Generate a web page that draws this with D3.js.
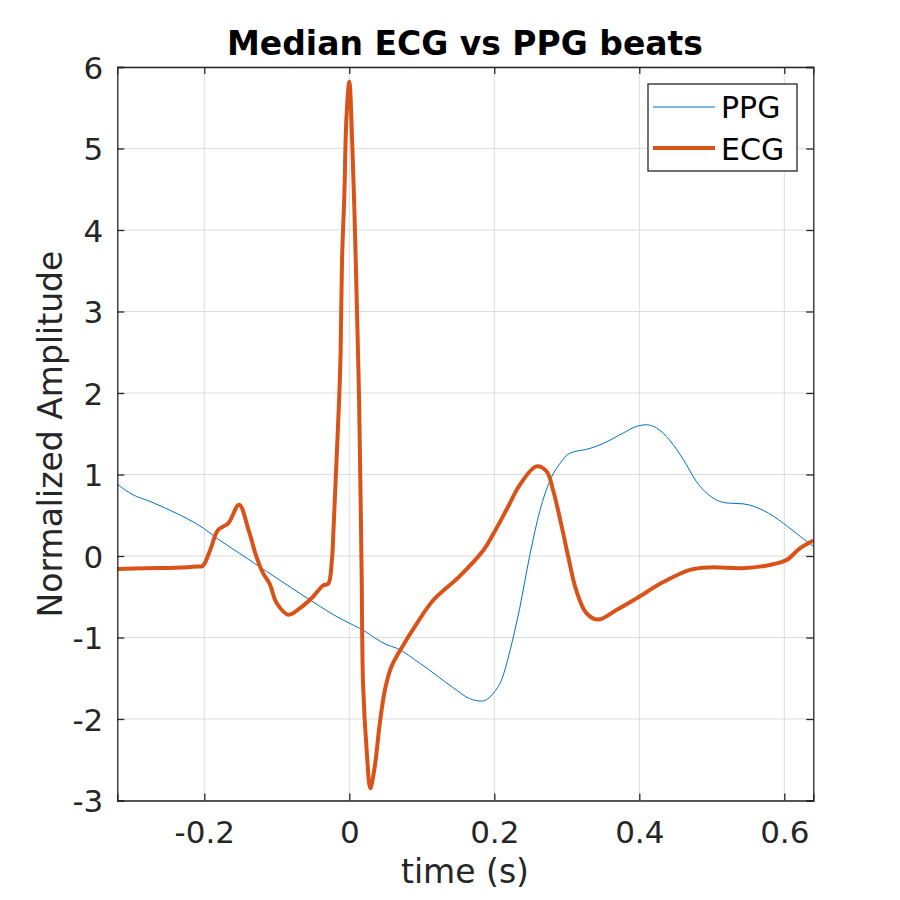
<!DOCTYPE html>
<html>
<head>
<meta charset="utf-8">
<script src="https://cdn.jsdelivr.net/npm/d3@7"></script>
<style>
  body { margin: 0; background: #fff; }
  text { font-family: "DejaVu Sans", sans-serif; }
</style>
</head>
<body>
<svg width="900" height="900"></svg>
<script>
// median beats, time in seconds relative to R peak
var ppgTime = [-0.32, -0.298, -0.275, -0.247, -0.224, -0.201, -0.183, -0.151, -0.114, -0.068, -0.040, -0.022,
  0.006, 0.015, 0.052, 0.065, 0.098, 0.144, 0.166, 0.183, 0.199, 0.210, 0.222, 0.235, 0.249, 0.263, 0.277,
  0.291, 0.304, 0.332, 0.350, 0.378, 0.396, 0.410, 0.424, 0.442, 0.461, 0.479, 0.502, 0.521, 0.543, 0.571,
  0.599, 0.622, 0.64]
var ppgValue = [0.88, 0.75, 0.67, 0.56, 0.46, 0.34, 0.22, 0.03, -0.19, -0.46, -0.62, -0.72,
  -0.85, -0.89, -1.09, -1.13, -1.32, -1.62, -1.75, -1.78, -1.68, -1.52, -1.15, -0.64, 0.01, 0.56, 0.93,
  1.14, 1.26, 1.32, 1.38, 1.51, 1.59, 1.61, 1.57, 1.42, 1.18, 0.91, 0.71, 0.65, 0.64, 0.56,
  0.40, 0.24, 0.12]

var ecgTime = [-0.32, -0.28, -0.24, -0.21, -0.202, -0.192, -0.181, -0.167, -0.152, -0.139, -0.128, -0.119,
  -0.110, -0.100, -0.084, -0.068, -0.050, -0.036, -0.029, -0.024, -0.022, -0.018, -0.014, -0.012, -0.010,
  -0.007, -0.004, 0.0, 0.004, 0.007, 0.010, 0.012, 0.0135, 0.017, 0.019, 0.024, 0.029, 0.035, 0.042, 0.049,
  0.058, 0.070, 0.093, 0.116, 0.152, 0.185, 0.198, 0.217, 0.235, 0.258, 0.272, 0.281, 0.293, 0.302, 0.313,
  0.327, 0.343, 0.369, 0.396, 0.433, 0.470, 0.497, 0.543, 0.580, 0.603, 0.621, 0.64]
var ecgValue = [-0.16, -0.15, -0.145, -0.13, -0.12, 0.07, 0.32, 0.40, 0.63, 0.32, -0.01, -0.21,
  -0.34, -0.58, -0.72, -0.64, -0.50, -0.36, -0.34, -0.05, 0.28, 1.10, 1.92, 2.49, 3.64,
  4.38, 5.36, 5.82, 5.07, 4.25, 3.23, 2.49, 1.92, -0.2, -1.57, -2.39, -2.85, -2.59, -2.06, -1.65,
  -1.36, -1.16, -0.83, -0.54, -0.25, 0.07, 0.26, 0.57, 0.87, 1.10, 1.04, 0.81, 0.36, -0.01, -0.42,
  -0.70, -0.78, -0.66, -0.52, -0.32, -0.17, -0.14, -0.15, -0.11, -0.05, 0.09, 0.19]

var xTicks = [-0.2, 0, 0.2, 0.4, 0.6]
var yTicks = [-3, -2, -1, 0, 1, 2, 3, 4, 5, 6]

var svg = d3.select('svg')
  , m = { left: 117.3, right: 813.3, top: 67, bottom: 800.5 }

var x = d3.scaleLinear().domain([-0.32, 0.64]).range([m.left, m.right])
var y = d3.scaleLinear().domain([-3, 6]).range([m.bottom, m.top])

var ppg = ppgTime.map(function (t, i) { return [t, ppgValue[i]] })
var ecg = ecgTime.map(function (t, i) { return [t, ecgValue[i]] })

// grid
svg.append('g').selectAll('line').data(xTicks).enter().append('line')
  .attr('x1', x).attr('x2', x).attr('y1', m.top).attr('y2', m.bottom)
  .attr('stroke', '#dcdcdc').attr('stroke-width', 1)
svg.append('g').selectAll('line').data(yTicks).enter().append('line')
  .attr('y1', y).attr('y2', y).attr('x1', m.left).attr('x2', m.right)
  .attr('stroke', '#dcdcdc').attr('stroke-width', 1)

var line = d3.line()
  .x(function (d) { return x(d[0]) })
  .y(function (d) { return y(d[1]) })
  .curve(d3.curveMonotoneX)

var plot = svg.append('g')
plot.append('path').datum(ppg).attr('d', line)
  .attr('fill', 'none').attr('stroke', '#0072BD').attr('stroke-width', 1)
plot.append('path').datum(ecg).attr('d', line.curve(d3.curveCatmullRom.alpha(0.5)))
  .attr('fill', 'none').attr('stroke', '#D95319').attr('stroke-width', 4)
  .attr('stroke-linejoin', 'round')

// axes, ticks inward on all four sides
var tl = 7
var fmt = function (d) { return String(+d.toFixed(1)) }
var axB = svg.append('g').attr('transform', 'translate(0,' + m.bottom + ')')
  .call(d3.axisBottom(x).tickValues(xTicks).tickSize(-tl).tickFormat(fmt))
var axT = svg.append('g').attr('transform', 'translate(0,' + m.top + ')')
  .call(d3.axisTop(x).tickValues(xTicks).tickSize(-tl).tickFormat(''))
var axL = svg.append('g').attr('transform', 'translate(' + m.left + ',0)')
  .call(d3.axisLeft(y).tickValues(yTicks).tickSize(-tl).tickPadding(14).tickFormat(fmt))
var axR = svg.append('g').attr('transform', 'translate(' + m.right + ',0)')
  .call(d3.axisRight(y).tickValues(yTicks).tickSize(-tl).tickFormat(''))

svg.selectAll('.domain, .tick line').attr('stroke', '#262626').attr('stroke-width', 1.3)
svg.selectAll('.tick text').attr('fill', '#262626').style('font-size', '31px')
  .style('font-family', '"DejaVu Sans", sans-serif')
axB.selectAll('.tick text').attr('y', 42.5).attr('dy', 0)
axL.selectAll('.tick text').attr('dy', '0.36em')

// labels
svg.append('text').attr('x', 465).attr('y', 55).attr('text-anchor', 'middle')
  .style('font-size', '33px').style('font-weight', 'bold').text('Median ECG vs PPG beats')
svg.append('text').attr('x', 465).attr('y', 883).attr('text-anchor', 'middle')
  .attr('fill', '#262626').style('font-size', '33px').text('time (s)')
svg.append('text').attr('transform', 'translate(62,434) rotate(-90)').attr('text-anchor', 'middle')
  .attr('fill', '#262626').style('font-size', '33px').text('Normalized Amplitude')

// legend
var lg = svg.append('g')
lg.append('rect').attr('x', 648).attr('y', 84).attr('width', 149).attr('height', 87)
  .attr('fill', '#fff').attr('stroke', '#262626').attr('stroke-width', 1.3)
var items = [{ name: 'PPG', color: '#0072BD', w: 1, y: 107, base: 118 }, { name: 'ECG', color: '#D95319', w: 4, y: 148, base: 160 }]
items.forEach(function (d) {
  lg.append('line').attr('x1', 653).attr('x2', 715).attr('y1', d.y).attr('y2', d.y)
    .attr('stroke', d.color).attr('stroke-width', d.w)
  lg.append('text').attr('x', 721).attr('y', d.base)
    .style('font-size', '30px').attr('fill', '#000').text(d.name)
})
</script>
</body>
</html>
